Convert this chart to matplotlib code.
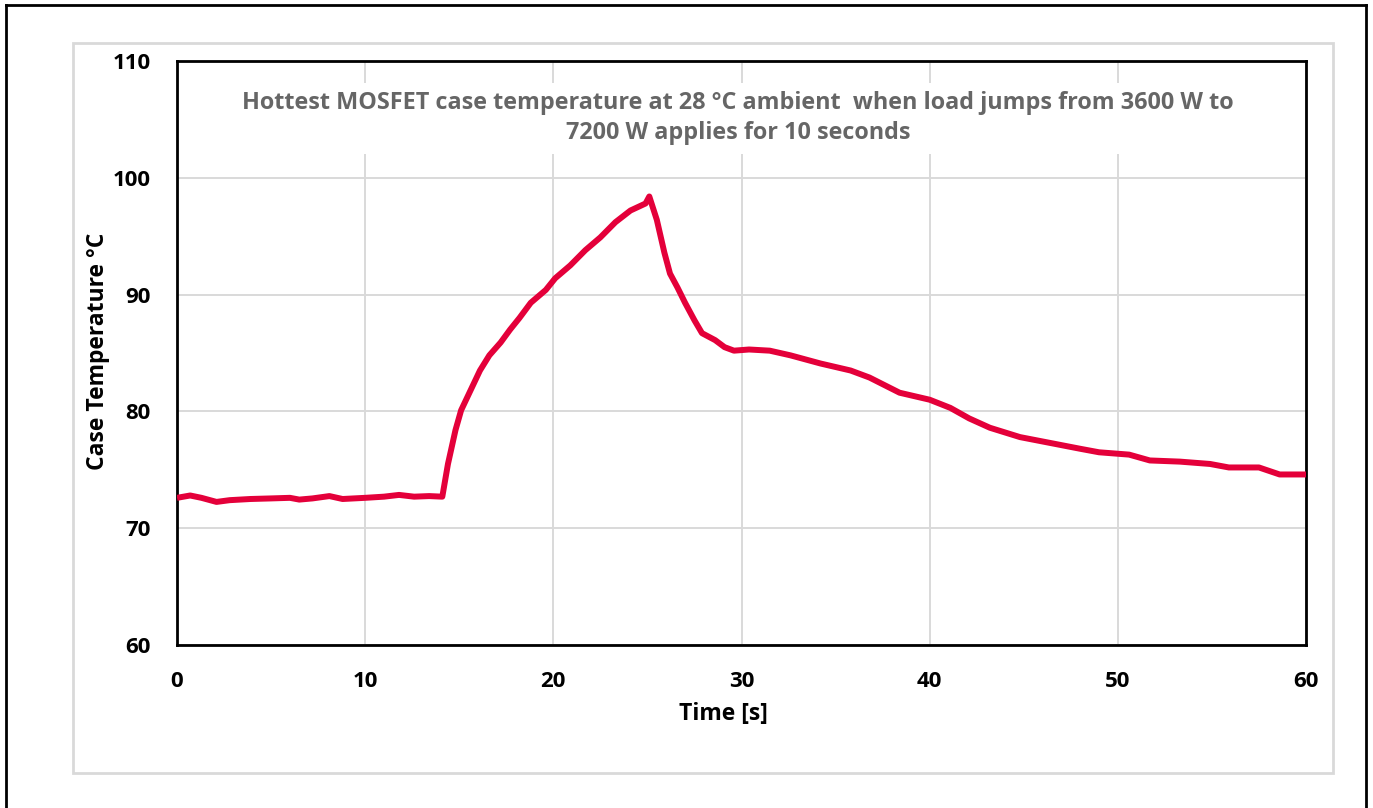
import matplotlib
matplotlib.use("Agg")
import matplotlib.pyplot as plt
from matplotlib.patches import Rectangle
from matplotlib.lines import Line2D

plt.rcParams['font.family'] = ['Open Sans', 'DejaVu Sans']
plt.rcParams['font.weight'] = 'bold'

# time [s] and case temperature [degC]
time_s = [0.0, 0.7, 1.3, 2.1, 2.8, 3.9, 5.0, 6.0, 6.5, 7.2, 8.1, 8.8, 10.0, 11.0, 11.8, 12.6, 13.4, 14.1,
          14.4, 14.8, 15.1, 15.6, 16.1, 16.6, 17.2, 17.7, 18.2, 18.8, 19.6, 20.1, 20.9, 21.7, 22.5, 23.3,
          24.1, 24.9, 25.1,
          25.5, 25.9, 26.2, 26.6, 27.0, 27.5, 27.9, 28.6, 29.1, 29.6, 30.4, 31.5, 32.6, 34.2, 35.8, 36.8,
          38.4, 40.0, 41.1, 42.1, 43.2, 44.8, 46.4, 48.0, 49.0, 50.6, 51.7, 53.3, 54.9, 55.9, 57.5, 58.6, 60.0]
temp_c = [72.6, 72.8, 72.6, 72.25, 72.4, 72.5, 72.55, 72.6, 72.45, 72.55, 72.75, 72.5, 72.6, 72.7, 72.85, 72.7, 72.75, 72.7,
          75.5, 78.4, 80.1, 81.8, 83.5, 84.8, 85.9, 87.0, 88.0, 89.3, 90.4, 91.4, 92.5, 93.8, 94.9, 96.2,
          97.2, 97.8, 98.4,
          96.4, 93.6, 91.8, 90.6, 89.3, 87.8, 86.7, 86.1, 85.5, 85.2, 85.3, 85.2, 84.8, 84.1, 83.5, 82.9,
          81.6, 81.0, 80.3, 79.4, 78.6, 77.8, 77.3, 76.8, 76.5, 76.3, 75.8, 75.7, 75.5, 75.2, 75.2, 74.6, 74.6]

x_ticks = [0, 10, 20, 30, 40, 50, 60]
y_ticks = [60, 70, 80, 90, 100, 110]

W, H = 1373, 808
fig = plt.figure(figsize=(W / 100, H / 100), dpi=100)
ax = fig.add_axes([177 / W, 1 - 645 / H, (1306 - 177) / W, (645 - 61) / H])

ax.plot(time_s, temp_c, color='#E4003A', lw=4.3, solid_joinstyle='round', solid_capstyle='butt', zorder=3)

ax.set_xlim(0, 60)
ax.set_ylim(60, 110)
ax.set_xticks(x_ticks)
ax.set_yticks(y_ticks)
ax.tick_params(length=0, pad=19, labelsize=16)
ax.grid(True, color='#d9d9d9', lw=1.4, zorder=0)
ax.set_axisbelow(True)
for sp in ax.spines.values():
    sp.set_linewidth(2.0)
    sp.set_color('black')

ax.set_xlabel('Time [s]', fontsize=16.5, fontweight='bold')
ax.xaxis.set_label_coords((723 - 177) / (1306 - 177), -(702 - 645) / (645 - 61))

fig.text(98 / W, 1 - 351 / H, 'Case Temperature °C', rotation=90, ha='center', va='center',
         fontsize=16.5, fontweight='bold')

ax.text(0.497, 0.902,
        'Hottest MOSFET case temperature at 28 °C ambient  when load jumps from 3600 W to\n'
        '7200 W applies for 10 seconds',
        transform=ax.transAxes, ha='center', va='center', fontsize=16.8, fontweight='bold',
        color='#666666', linespacing=1.35,
        bbox=dict(facecolor='white', edgecolor='none', pad=6), zorder=4)

# chart area frame (light grey) and outer black frame
fig.patches.append(Rectangle((73 / W, 1 - 773 / H), (1333 - 73) / W, (773 - 43) / H,
                             transform=fig.transFigure, fill=False, edgecolor='#d9d9d9', lw=2))
for xs, ys in [([6 / W, 6 / W], [0, 1 - 5 / H]), ([6 / W, 1366 / W], [1 - 5 / H, 1 - 5 / H]),
               ([1366 / W, 1366 / W], [0, 1 - 5 / H])]:
    fig.lines.append(Line2D(xs, ys, transform=fig.transFigure, color='black', lw=2))

fig.savefig('out.png', dpi=100)
